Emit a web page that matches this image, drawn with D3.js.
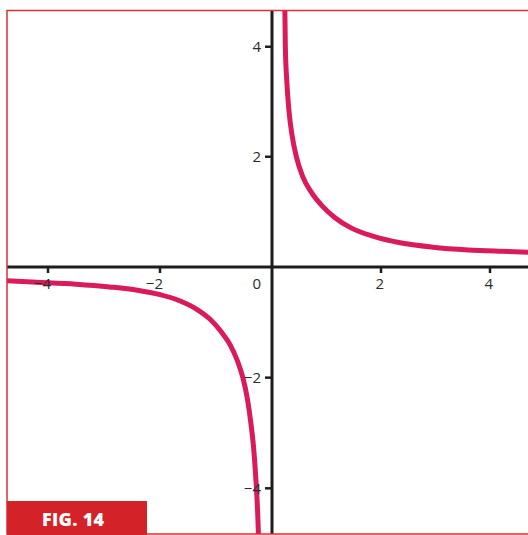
<!DOCTYPE html>
<html>
<head>
<meta charset="utf-8">
<script src="https://cdn.jsdelivr.net/npm/d3@7"></script>
<style>
  html, body { margin: 0; padding: 0; background: #fff; }
  svg { display: block; }
</style>
</head>
<body>
<svg id="chart" width="528" height="535"></svg>
<script>
// Data
const posX = [0.232, 0.245, 0.27, 0.31, 0.37, 0.45, 0.56, 0.72, 0.92, 1.15, 1.45, 1.85, 2.35, 2.95, 3.6, 4.2, 4.85];
const posY = [4.95, 4.0, 3.4, 2.85, 2.38, 1.99, 1.65, 1.36, 1.11, 0.90, 0.71, 0.56, 0.44, 0.36, 0.31, 0.285, 0.265];
const negX = [-4.85, -4.2, -3.5, -2.9, -2.4, -2.0, -1.65, -1.35, -1.1, -0.9, -0.74, -0.62, -0.52, -0.44, -0.38, -0.33, -0.29, -0.262, -0.245, -0.238];
const negY = [-0.245, -0.275, -0.31, -0.36, -0.42, -0.50, -0.61, -0.76, -0.95, -1.18, -1.42, -1.69, -2.0, -2.38, -2.8, -3.25, -3.8, -4.3, -4.75, -5.0];
const xTicks = [-4, -2, 2, 4];
const yTicks = [4, 2, -2, -4];
const figLabel = "FIG. 14";

const svg = d3.select("#chart");
const frame = { left: 7, top: 10.5, right: 540, bottom: 534 };

const x = d3.scaleLinear().domain([-4, 0, 4]).range([48, 272, 490]);
const y = d3.scaleLinear().domain([-4, 0, 4]).range([488.3, 267, 46.7]);

svg.append("defs").append("clipPath").attr("id", "clip")
  .append("rect").attr("x", frame.left).attr("y", frame.top)
  .attr("width", 528 - frame.left).attr("height", frame.bottom - frame.top);

const plot = svg.append("g").attr("clip-path", "url(#clip)");

// axes lines
plot.append("line").attr("x1", frame.left).attr("x2", 528)
  .attr("y1", y(0)).attr("y2", y(0))
  .attr("stroke", "#1d1d1b").attr("stroke-width", 3);
plot.append("line").attr("x1", x(0)).attr("x2", x(0))
  .attr("y1", frame.top).attr("y2", frame.bottom)
  .attr("stroke", "#1d1d1b").attr("stroke-width", 3);

// ticks
plot.selectAll(".xt").data(xTicks).join("line")
  .attr("x1", d => x(d)).attr("x2", d => x(d))
  .attr("y1", y(0)).attr("y2", y(0) + 6)
  .attr("stroke", "#1d1d1b").attr("stroke-width", 2.5);
plot.selectAll(".yt").data(yTicks).join("line")
  .attr("x1", x(0) - 7).attr("x2", x(0))
  .attr("y1", d => y(d)).attr("y2", d => y(d))
  .attr("stroke", "#1d1d1b").attr("stroke-width", 2.5);

// curves
const line = d3.line().x(d => x(d[0])).y(d => y(d[1])).curve(d3.curveMonotoneX);
const pos = posX.map((v, i) => [v, posY[i]]);
const neg = negX.map((v, i) => [v, negY[i]]);
[pos, neg].forEach(s => {
  plot.append("path").datum(s).attr("d", line)
    .attr("fill", "none").attr("stroke", "#da1b5b").attr("stroke-width", 5)
    .attr("stroke-linecap", "butt").attr("stroke-linejoin", "round");
});

// labels
const fmt = d => d < 0 ? "\u2212" + Math.abs(d) : String(d);
const font = "'Open Sans', sans-serif";
svg.selectAll(".xl").data(xTicks).join("text")
  .attr("x", d => x(d) + 3).attr("y", y(0) + 22)
  .attr("text-anchor", "end").attr("font-family", font).attr("font-size", 15)
  .attr("fill", "#2b2b2b").text(fmt);
svg.append("text").attr("x", 261).attr("y", y(0) + 22)
  .attr("text-anchor", "end").attr("font-family", font).attr("font-size", 15)
  .attr("fill", "#2b2b2b").text("0");
svg.selectAll(".yl").data(yTicks).join("text")
  .attr("x", 261).attr("y", d => y(d) + 5.5)
  .attr("text-anchor", "end").attr("font-family", font).attr("font-size", 15)
  .attr("fill", "#2b2b2b").text(fmt);

// frame
svg.append("rect").attr("x", frame.left).attr("y", frame.top)
  .attr("width", frame.right - frame.left).attr("height", frame.bottom - frame.top)
  .attr("fill", "none").attr("stroke", "#d8303a").attr("stroke-width", 1.5);

// fig label
svg.append("rect").attr("x", 7).attr("y", 501).attr("width", 140).attr("height", 34)
  .attr("fill", "#d42229");
svg.append("text").attr("x", 42).attr("y", 525.5)
  .attr("font-family", font).attr("font-weight", 800).attr("font-size", 18)
  .attr("letter-spacing", 0.3)
  .attr("fill", "#fff").text(figLabel);
</script>
</body>
</html>
